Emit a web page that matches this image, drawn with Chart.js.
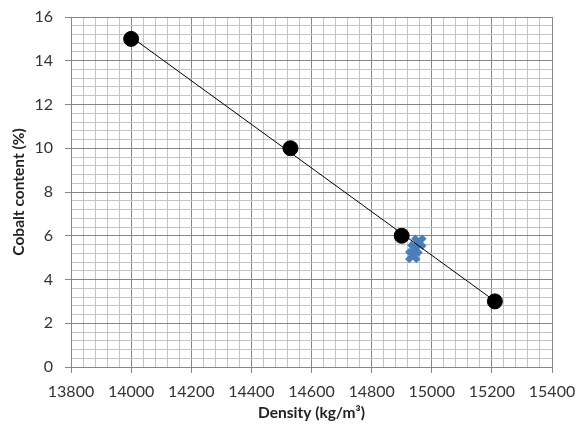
<!DOCTYPE html>
<html>
<head>
<meta charset="utf-8">
<script src="https://cdn.jsdelivr.net/npm/chart.js@4"></script>
<style>
  html, body { margin: 0; padding: 0; background: #fff; }
  #wrap { width: 577px; height: 432px; position: relative; }
</style>
</head>
<body>
<div id="wrap"><canvas id="chart"></canvas></div>
<script>
// Reference alloys: density vs cobalt content
const densities = [14000, 14530, 14900, 15210];
const cobalt = [15, 10, 6, 3];

// Measured samples
const sampleDensity = [14957, 14944, 14937];
const sampleCobalt = [5.7, 5.4, 5.1];

// Axis ranges / steps
const xRange = [13800, 15400];
const yRange = [0, 16];
const xMajor = 200, xMinor = 40;
const yMajor = 2, yMinor = 0.4;

// least squares fit through the reference points
function linearFit(xs, ys) {
    const n = xs.length;
    const mx = xs.reduce((a, b) => a + b, 0) / n;
    const my = ys.reduce((a, b) => a + b, 0) / n;
    let sxy = 0, sxx = 0;
    xs.forEach((x, i) => { sxy += (x - mx) * (ys[i] - my); sxx += (x - mx) * (x - mx); });
    const slope = sxy / sxx;
    return x => my + slope * (x - mx);
}
const fit = linearFit(densities, cobalt);
const xLo = Math.min(...densities), xHi = Math.max(...densities);
const trend = [{ x: xLo, y: fit(xLo) }, { x: xHi, y: fit(xHi) }];

const isMajor = (v, step) => Math.abs(v / step - Math.round(v / step)) < 1e-6;

function gridFor(step) {
    return {
        color: ctx => isMajor(ctx.tick.value, step) ? '#868686' : '#c4c4c4',
        tickColor: ctx => isMajor(ctx.tick.value, step) ? '#868686' : 'rgba(0,0,0,0)',
        lineWidth: 1,
        tickLength: 6,
        drawTicks: true
    };
}

const tickFont = { family: 'Lato', size: 16 };
const titleFont = { family: 'Lato', size: 15.5, weight: 'bold' };

new Chart(document.getElementById('chart'), {
    type: 'scatter',
    data: {
        datasets: [
            {
                label: 'Samples',
                data: sampleDensity.map((x, i) => ({ x, y: sampleCobalt[i] })),
                pointStyle: 'crossRot',
                pointRadius: 8,
                borderWidth: 6,
                borderColor: '#4A7EBB',
                backgroundColor: '#4A7EBB',
                order: 3
            },
            {
                label: 'Trend',
                type: 'line',
                data: trend,
                borderColor: '#000',
                borderWidth: 1,
                pointRadius: 0,
                fill: false,
                order: 2
            },
            {
                label: 'Reference',
                data: densities.map((x, i) => ({ x, y: cobalt[i] })),
                pointStyle: 'circle',
                pointRadius: 7.5,
                backgroundColor: '#000',
                borderColor: '#000',
                order: 1
            }
        ]
    },
    options: {
        responsive: true,
        maintainAspectRatio: false,
        animation: false,
        layout: { padding: { left: 0, top: 17, right: 25, bottom: 0 } },
        plugins: {
            legend: { display: false },
            tooltip: { enabled: false }
        },
        scales: {
            x: {
                type: 'linear',
                min: xRange[0],
                max: xRange[1],
                grid: gridFor(xMajor),
                border: { color: '#868686' },
                ticks: {
                    stepSize: xMinor,
                    autoSkip: false,
                    maxRotation: 0,
                    padding: 9,
                    color: '#333',
                    font: tickFont,
                    callback: v => isMajor(v, xMajor) ? String(Math.round(v)) : ''
                },
                title: {
                    display: true,
                    text: 'Density (kg/m³)',
                    color: '#222',
                    font: titleFont,
                    padding: { top: 0, bottom: 10 }
                },
                afterFit: s => { s.height = 65; s.paddingLeft = 0; s.paddingRight = 0; }
            },
            y: {
                type: 'linear',
                min: yRange[0],
                max: yRange[1],
                grid: gridFor(yMajor),
                border: { color: '#868686' },
                ticks: {
                    stepSize: yMinor,
                    autoSkip: false,
                    padding: 12,
                    color: '#333',
                    font: tickFont,
                    callback: v => isMajor(v, yMajor) ? String(Math.round(v)) : ''
                },
                title: {
                    display: true,
                    text: 'Cobalt content (%)',
                    color: '#222',
                    font: titleFont,
                    padding: { top: 10, bottom: 0 }
                },
                afterFit: s => { s.width = 71; s.paddingTop = 0; s.paddingBottom = 0; }
            }
        }
    }
});
</script>
</body>
</html>
